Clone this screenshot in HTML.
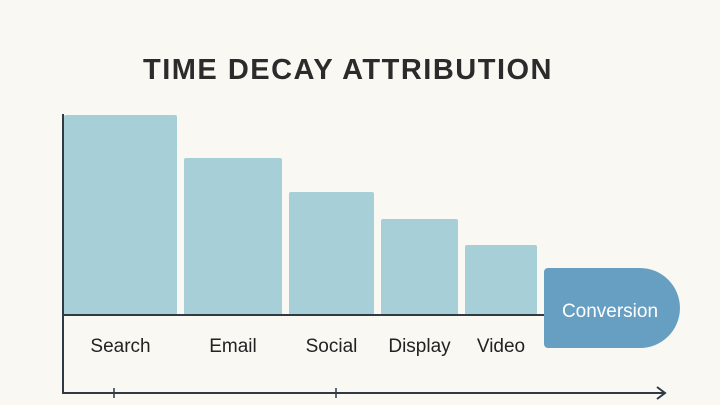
<!DOCTYPE html>
<html><head><meta charset="utf-8"><style>
body{margin:0;background:#faf8f3;}
svg{display:block;font-family:"Liberation Sans",sans-serif;}
</style></head><body>
<svg width="720" height="405" viewBox="0 0 720 405">
<rect width="720" height="405" fill="#faf8f3"/>
<text x="348" y="79" text-anchor="middle" font-size="29" font-weight="bold" fill="#2b2b2b" letter-spacing="1.5">TIME DECAY ATTRIBUTION</text>
<g id="bars"></g>
<line x1="63" y1="315" x2="545" y2="315" stroke="#2f3a45" stroke-width="2"/>
<line x1="63" y1="114" x2="63" y2="394" stroke="#2f3a45" stroke-width="2"/>
<line x1="62" y1="393" x2="664" y2="393" stroke="#2f3a45" stroke-width="2"/>
<polyline points="657,387 665,393 657,399" fill="none" stroke="#2f3a45" stroke-width="2"/>
<line x1="114" y1="388" x2="114" y2="398" stroke="#2f3a45" stroke-width="1.5"/>
<line x1="336" y1="388" x2="336" y2="398" stroke="#2f3a45" stroke-width="1.5"/>
<path d="M548 268 H640 A40 40 0 0 1 640 348 H548 A4 4 0 0 1 544 344 V272 A4 4 0 0 1 548 268 Z" fill="#679fc3"/>
<text x="610" y="317" text-anchor="middle" font-size="19" fill="#ffffff">Conversion</text>
</svg>
<script>
const categories=["Search","Email","Social","Display","Video"];
const values=[100,78.5,61.5,48,35];
const xs=[[64,177],[184,282],[289,374],[381,458],[465,537]];
const g=document.getElementById('bars');
const ns='http://www.w3.org/2000/svg';
const base=315, top100=115;
function y(v){return base-(base-top100)*v/100;}
categories.forEach((c,i)=>{
  const r=document.createElementNS(ns,'rect');
  r.setAttribute('x',xs[i][0]);r.setAttribute('width',xs[i][1]-xs[i][0]);
  r.setAttribute('y',y(values[i]));r.setAttribute('height',base-y(values[i]));
  r.setAttribute('rx',2);r.setAttribute('fill','#a6cfd8');
  
  
  g.appendChild(r);
  const t=document.createElementNS(ns,'text');
  t.setAttribute('x',(xs[i][0]+xs[i][1])/2);t.setAttribute('y',352);
  t.setAttribute('text-anchor','middle');t.setAttribute('font-size','19');t.setAttribute('fill','#222');
  t.textContent=c;
  
  
  g.appendChild(t);
});
</script>
</body></html>
